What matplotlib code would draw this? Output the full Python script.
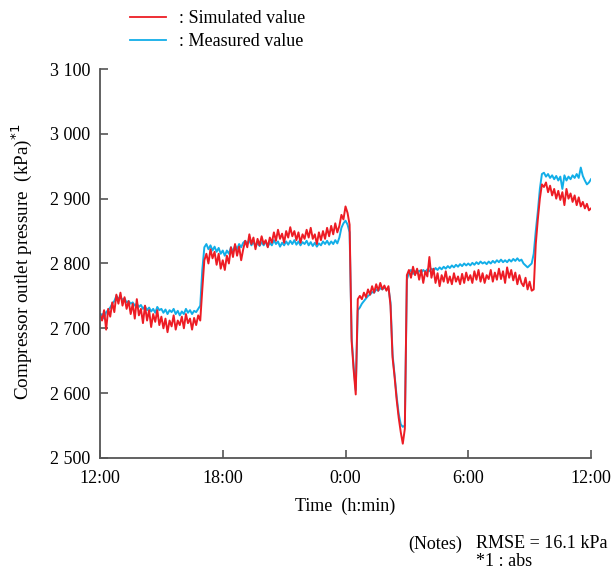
import numpy as np
import matplotlib
matplotlib.use("Agg")
import matplotlib.pyplot as plt
from matplotlib.lines import Line2D

plt.rcParams['font.family'] = ['Liberation Serif', 'DejaVu Serif']

# values, one sample every 0.1 h starting at 12:00
simulated = [
    # 12:00 - 16:54
    2722, 2712, 2728, 2698, 2730, 2718, 2740, 2725, 2752, 2738,
    2755, 2735, 2748, 2730, 2742, 2722, 2738, 2715, 2745, 2720,
    2730, 2708, 2735, 2712, 2728, 2702, 2722, 2710, 2728, 2705,
    2718, 2700, 2715, 2694, 2712, 2703, 2720, 2698, 2712, 2705,
    2718, 2700, 2722, 2708, 2715, 2698, 2716, 2705, 2720, 2712,
    # 17:00 - 0:36
    2760, 2805, 2815, 2800, 2822, 2808, 2818, 2798, 2815, 2792,
    2805, 2790, 2812, 2800, 2825, 2810, 2830, 2812, 2826, 2805,
    2822, 2835, 2825, 2845, 2830, 2840, 2822, 2838, 2828, 2842,
    2830, 2836, 2825, 2840, 2832, 2848, 2835, 2852, 2838, 2846,
    2832, 2850, 2840, 2856, 2842, 2850, 2836, 2848, 2832, 2845,
    2838, 2852, 2840, 2855, 2838, 2845, 2830, 2848, 2836, 2850,
    2838, 2855, 2842, 2858, 2845, 2862, 2848, 2858, 2875, 2868,
    2888, 2878, 2860, 2680, 2635, 2598, 2745,
    # 0:42 - 3:00
    2750, 2745, 2755, 2748, 2760, 2752, 2765, 2755, 2768, 2758,
    2770, 2760, 2766, 2758, 2765, 2735, 2655, 2625, 2590, 2562,
    2540, 2522, 2545, 2782,
    # 3:06 - 9:12
    2790, 2778, 2795, 2782, 2792, 2775, 2790, 2770, 2788, 2780,
    2810, 2778, 2792, 2770, 2785, 2765, 2782, 2772, 2788, 2770,
    2780, 2768, 2785, 2772, 2780, 2768, 2784, 2770, 2786, 2774,
    2782, 2770, 2788, 2775, 2790, 2772, 2785, 2770, 2782, 2776,
    2790, 2772, 2786, 2775, 2792, 2776, 2788, 2770, 2794, 2778,
    2790, 2774, 2786, 2768, 2782, 2770, 2765, 2778, 2760, 2772,
    2758, 2760,
    # 9:18 - 12:00
    2830, 2868, 2900, 2922, 2918, 2925, 2910, 2920, 2905, 2915,
    2900, 2912, 2898, 2910, 2890, 2915, 2900, 2908, 2895, 2905,
    2890, 2902, 2888, 2895, 2885, 2892, 2882, 2885,
]

measured = [
    # 12:00 - 16:54
    2718, 2722, 2715, 2725, 2728, 2732, 2738, 2742, 2750, 2746,
    2748, 2744, 2746, 2740, 2742, 2738, 2740, 2735, 2738, 2733,
    2736, 2730, 2734, 2728, 2732, 2726, 2730, 2724, 2733, 2728,
    2730, 2724, 2729, 2722, 2728, 2725, 2730, 2722, 2727, 2720,
    2726, 2722, 2730, 2724, 2728, 2722, 2727, 2725, 2730, 2735,
    # 17:00 - 0:36
    2790, 2825, 2830, 2822, 2828, 2820, 2826, 2818, 2824, 2815,
    2820, 2812, 2820, 2815, 2825, 2818, 2828, 2822, 2830, 2825,
    2832, 2835, 2830, 2836, 2828, 2834, 2826, 2832, 2827, 2833,
    2828, 2834, 2826, 2832, 2828, 2836, 2830, 2834, 2826, 2832,
    2828, 2834, 2829, 2835, 2830, 2836, 2829, 2834, 2828, 2833,
    2830, 2835, 2828, 2833, 2827, 2832, 2826, 2831, 2828, 2834,
    2830, 2835, 2829, 2834, 2830, 2836, 2831, 2840, 2855, 2862,
    2866, 2860, 2848, 2685, 2640, 2605, 2728,
    # 0:42 - 3:00
    2732, 2738, 2742, 2746, 2750, 2752, 2756, 2755, 2760, 2758,
    2762, 2760, 2763, 2760, 2762, 2740, 2660, 2628, 2595, 2568,
    2552, 2548, 2550, 2775,
    # 3:06 - 9:12
    2786, 2790, 2784, 2788, 2785, 2789, 2786, 2790, 2787, 2791,
    2788, 2792, 2789, 2793, 2790, 2794, 2791, 2795, 2792, 2796,
    2793, 2797, 2794, 2798, 2795, 2799, 2796, 2800, 2797, 2800,
    2797, 2801, 2798, 2802, 2799, 2803, 2800, 2802, 2799, 2803,
    2800, 2804, 2801, 2805, 2802, 2806, 2802, 2805, 2802, 2806,
    2803, 2807, 2804, 2808, 2804, 2806, 2800, 2797, 2794, 2797,
    2800, 2815,
    # 9:18 - 12:00
    2850, 2880, 2915, 2938, 2940, 2934, 2938, 2932, 2936, 2930,
    2935, 2928, 2934, 2915, 2936, 2928, 2934, 2930, 2936, 2932,
    2938, 2932, 2948, 2935, 2928, 2922, 2925, 2930,
]

hours = np.arange(len(simulated)) / 10.0  # hours after 12:00

x_ticks = [0, 6, 12, 18, 24]
x_tick_labels = ['12:00', '18:00', '0:00', '6:00', '12:00']
y_ticks = [2500, 2600, 2700, 2800, 2900, 3000, 3100]
y_tick_labels = ['2 500', '2 600', '2 700', '2 800', '2 900', '3 000', '3 100']

red = '#ED1C24'
blue = '#12AEE8'
axis_col = '#555555'

fig = plt.figure(figsize=(6.12, 5.76), dpi=100)
ax = fig.add_axes([0.1634, 0.2049, 0.8023, 0.6753])

ax.plot(hours, measured, color=blue, lw=1.4)
ax.plot(hours, simulated, color=red, lw=1.4)

ax.set_xlim(0, 24)
ax.set_ylim(2500, 3100)
ax.set_xticks(x_ticks)
ax.set_xticklabels(x_tick_labels)
ax.set_yticks(y_ticks)
ax.set_yticklabels(y_tick_labels)

ax.spines['top'].set_visible(False)
ax.spines['right'].set_visible(False)
for s in ['left', 'bottom']:
    ax.spines[s].set_color(axis_col)
    ax.spines[s].set_linewidth(1.3)
ax.tick_params(axis='both', direction='in', length=6, width=1.2,
               color=axis_col, labelsize=13, labelcolor='black')
ax.tick_params(axis='x', pad=9)
ax.tick_params(axis='y', pad=7)

# axis titles
fig.text(345.5 / 612, 1 - 506 / 576, 'Time  (h:min)', ha='center', va='center', fontsize=13)
fig.text(22 / 612, 1 - 262 / 576, 'Compressor outlet pressure  (kPa)$^{*1}$',
         rotation=90, ha='center', va='center', fontsize=13.8)

# legend
handles = [Line2D([], [], color=red, lw=1.3), Line2D([], [], color=blue, lw=1.3)]
fig.legend(handles, [': Simulated value', ': Measured value'],
           loc='upper left', bbox_to_anchor=(130 / 612, 1 - 10 / 576),
           frameon=False, fontsize=13, handlelength=2.0, handletextpad=0.7,
           labelspacing=0.35, borderpad=0, borderaxespad=0)

# notes
fig.text(408 / 612, 1 - 544 / 576, '(Notes)', ha='left', va='center', fontsize=13)
fig.text(476 / 612, 1 - 544 / 576, 'RMSE = 16.1 kPa', ha='left', va='center', fontsize=13)
fig.text(476 / 612, 1 - 562 / 576, '*1 : abs', ha='left', va='center', fontsize=13)

fig.savefig('out.png', dpi=100)
